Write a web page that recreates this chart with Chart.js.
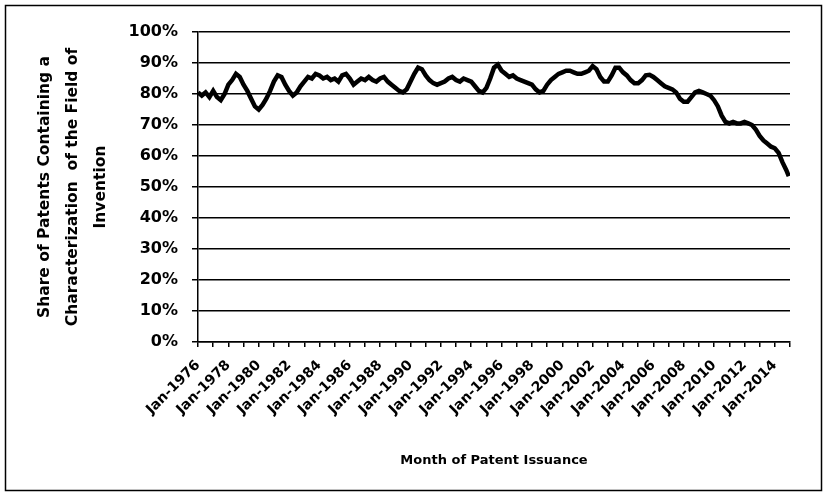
<!DOCTYPE html>
<html>
<head>
<meta charset="utf-8">
<script src="https://cdn.jsdelivr.net/npm/chart.js@4/dist/chart.umd.min.js"></script>
<style>
  html, body { margin: 0; padding: 0; background: #fff; }
  #wrap { position: relative; width: 828px; height: 497px; }
</style>
</head>
<body>
<div id="wrap"><canvas id="myChart" width="828" height="497"></canvas></div>
<script>
// month of issuance, as decimal year (every quarter)
const months = [
  1976.0, 1976.25, 1976.5, 1976.75, 1977.0, 1977.25, 1977.5, 1977.75,
  1978.0, 1978.25, 1978.5, 1978.75, 1979.0, 1979.25, 1979.5, 1979.75,
  1980.0, 1980.25, 1980.5, 1980.75, 1981.0, 1981.25, 1981.5, 1981.75,
  1982.0, 1982.25, 1982.5, 1982.75, 1983.0, 1983.25, 1983.5, 1983.75,
  1984.0, 1984.25, 1984.5, 1984.75, 1985.0, 1985.25, 1985.5, 1985.75,
  1986.0, 1986.25, 1986.5, 1986.75, 1987.0, 1987.25, 1987.5, 1987.75,
  1988.0, 1988.25, 1988.5, 1988.75, 1989.0, 1989.25, 1989.5, 1989.75,
  1990.0, 1990.25, 1990.5, 1990.75, 1991.0, 1991.25, 1991.5, 1991.75,
  1992.0, 1992.25, 1992.5, 1992.75, 1993.0, 1993.25, 1993.5, 1993.75,
  1994.0, 1994.25, 1994.5, 1994.75, 1995.0, 1995.25, 1995.5, 1995.75,
  1996.0, 1996.25, 1996.5, 1996.75, 1997.0, 1997.25, 1997.5, 1997.75,
  1998.0, 1998.25, 1998.5, 1998.75, 1999.0, 1999.25, 1999.5, 1999.75,
  2000.0, 2000.25, 2000.5, 2000.75, 2001.0, 2001.25, 2001.5, 2001.75,
  2002.0, 2002.25, 2002.5, 2002.75, 2003.0, 2003.25, 2003.5, 2003.75,
  2004.0, 2004.25, 2004.5, 2004.75, 2005.0, 2005.25, 2005.5, 2005.75,
  2006.0, 2006.25, 2006.5, 2006.75, 2007.0, 2007.25, 2007.5, 2007.75,
  2008.0, 2008.25, 2008.5, 2008.75, 2009.0, 2009.25, 2009.5, 2009.75,
  2010.0, 2010.25, 2010.5, 2010.75, 2011.0, 2011.25, 2011.5, 2011.75,
  2012.0, 2012.25, 2012.5, 2012.75, 2013.0, 2013.25, 2013.5, 2013.75,
  2014.0, 2014.25, 2014.5, 2014.75, 2014.92
]

// share of patents containing a characterization of the field of invention (%)
const share = [
  80.5, 79.5, 80.5, 79, 81, 79, 78, 80,
  83, 84.5, 86.5, 85.5, 83, 81, 78.5, 76,
  75, 76.5, 78.5, 81, 84, 86, 85.5, 83,
  81, 79.5, 80.5, 82.5, 84, 85.5, 85, 86.5,
  86, 85, 85.5, 84.5, 85, 84, 86, 86.5,
  85, 83, 84, 85, 84.5, 85.5, 84.5, 84,
  85, 85.5, 84, 83, 82, 81, 80.5, 81.5,
  84, 86.5, 88.5, 88, 86, 84.5, 83.5, 83,
  83.5, 84, 85, 85.5, 84.5, 84, 85, 84.5,
  84, 82.5, 81, 80.5, 82, 85, 88.5, 89.5,
  87.5, 86.5, 85.5, 86, 85, 84.5, 84, 83.5,
  83, 81.5, 80.5, 81, 83, 84.5, 85.5, 86.5,
  87, 87.5, 87.5, 87, 86.5, 86.5, 87, 87.5,
  89, 88, 85.5, 84, 84, 86, 88.5, 88.5,
  87, 86, 84.5, 83.5, 83.5, 84.5, 86, 86.2,
  85.5, 84.5, 83.5, 82.5, 82, 81.5, 80.5, 78.5,
  77.5, 77.5, 79, 80.5, 81, 80.5, 80, 79.5,
  78, 76, 73, 71, 70.5, 71, 70.5, 70.5,
  71, 70.5, 70, 68.5, 66.5, 65, 64, 63,
  62.5, 61, 58, 55.5, 53.5
]

const yTicks = [0, 10, 20, 30, 40, 50, 60, 70, 80, 90, 100]
const yTitle = ["Share of Patents Containing a", "Characterization  of the Field of", "Invention"]
const xTitle = "Month of Patent Issuance"

const frame = {
  id: "frame",
  afterDraw(chart) {
    const c = chart.ctx
    c.save()
    c.strokeStyle = "#000"
    c.lineWidth = 1.5
    c.strokeRect(5.5, 5.5, 816, 485)
    c.restore()
  }
}

const ctx = document.getElementById("myChart")
new Chart(ctx, {
  type: "line",
  data: {
    datasets: [{
      data: months.map((m, i) => ({x: m, y: share[i]})),
      borderColor: "#000",
      borderWidth: 4.5,
      pointRadius: 0,
      tension: 0
    }]
  },
  options: {
    responsive: false,
    animation: false,
    layout: {padding: {left: 0, right: 38, top: 32, bottom: 25}},
    plugins: {legend: {display: false}, tooltip: {enabled: false}},
    scales: {
      x: {
        type: "linear",
        min: 1976,
        max: 2015,
        afterFit: s => { s.height = 130 },
        ticks: {
          stepSize: 1,
          autoSkip: false,
          maxRotation: 45,
          minRotation: 45,
          padding: 10,
          color: "#000",
          font: {family: "DejaVu Sans", weight: "bold", size: 14},
          callback: v => (v % 2 === 0 && v < 2015) ? "Jan-" + v : ""
        },
        grid: {drawOnChartArea: false, drawTicks: true, tickLength: 5, color: "#000", lineWidth: 1.5},
        border: {color: "#000", width: 1.5},
        title: {
          display: true,
          text: xTitle,
          color: "#000",
          font: {family: "DejaVu Sans", weight: "bold", size: 13},
          padding: {top: 20}
        }
      },
      y: {
        min: 0,
        max: 100,
        afterFit: s => { s.width = 198 },
        afterBuildTicks: s => { s.ticks = yTicks.map(v => ({value: v})) },
        ticks: {
          color: "#000",
          padding: 14,
          font: {family: "DejaVu Sans", weight: "bold", size: 16},
          callback: v => v + "%"
        },
        grid: {color: "#000", lineWidth: 1.5, tickLength: 6},
        border: {color: "#000", width: 1.5},
        title: {
          display: true,
          text: yTitle,
          color: "#000",
          font: {family: "DejaVu Sans", weight: "bold", size: 15.5, lineHeight: 1.8},
          padding: {top: 31}
        }
      }
    }
  },
  plugins: [frame]
})
</script>
</body>
</html>
